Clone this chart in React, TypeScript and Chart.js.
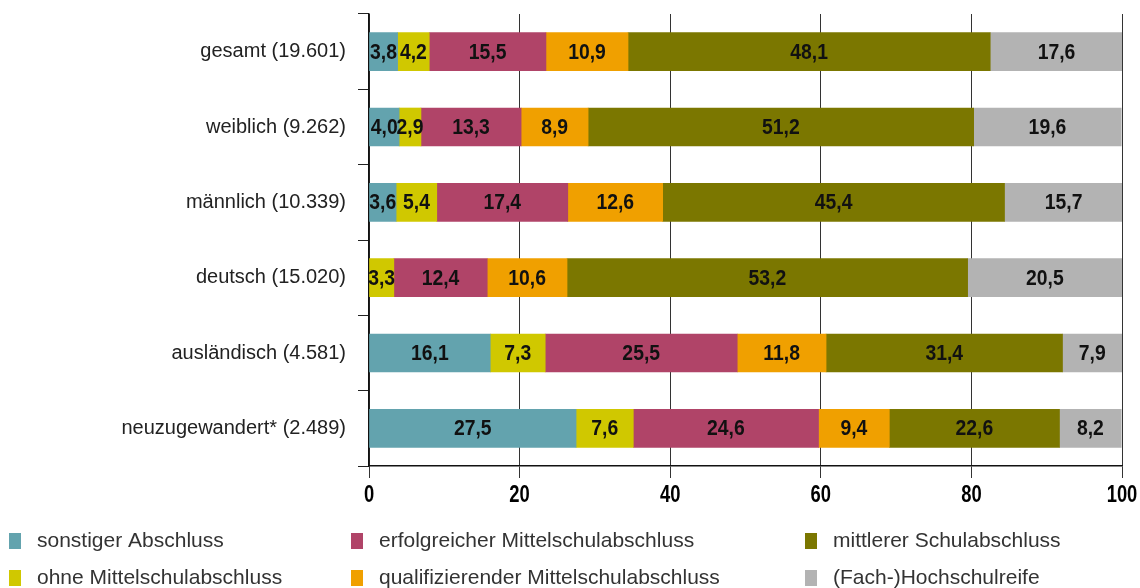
import React, { useEffect, useRef } from "react";
import { Chart, registerables } from "chart.js";

Chart.register(...registerables);

const categories = [
  "gesamt (19.601)",
  "weiblich (9.262)",
  "männlich (10.339)",
  "deutsch (15.020)",
  "ausländisch (4.581)",
  "neuzugewandert* (2.489)",
];

const sonstiger = [3.8, 4.0, 3.6, null, 16.1, 27.5];
const ohneMittel = [4.2, 2.9, 5.4, 3.3, 7.3, 7.6];
const erfolgreicher = [15.5, 13.3, 17.4, 12.4, 25.5, 24.6];
const qualifizierender = [10.9, 8.9, 12.6, 10.6, 11.8, 9.4];
const mittlerer = [48.1, 51.2, 45.4, 53.2, 31.4, 22.6];
const hochschulreife = [17.6, 19.6, 15.7, 20.5, 7.9, 8.2];

const xTicks = [0, 20, 40, 60, 80, 100];

const seriesNames = [
  "sonstiger Abschluss",
  "ohne Mittelschulabschluss",
  "erfolgreicher Mittelschulabschluss",
  "qualifizierender Mittelschulabschluss",
  "mittlerer Schulabschluss",
  "(Fach-)Hochschulreife",
];
const seriesColors = ["#63a3ae", "#d0c800", "#b04468", "#f0a000", "#7b7700", "#b3b3b3"];
const seriesData = [sonstiger, ohneMittel, erfolgreicher, qualifizierender, mittlerer, hochschulreife];

const BOLD_FONT = "'Liberation Sans', Arial, sans-serif";
const REG_FONT = "'Liberation Sans', Arial, sans-serif";

function drawCondensed(ctx: any, text: string, x: number, y: number, sx: number) {
  ctx.save();
  ctx.translate(x, y);
  ctx.scale(sx, 1);
  ctx.fillText(text, 0, 0);
  ctx.restore();
}

const valueLabelPlugin = {
  id: "valueLabels",
  afterDatasetsDraw(chart: any) {
    const ctx = chart.ctx;
    ctx.save();
    ctx.font = `bold 22px ${BOLD_FONT}`;
    ctx.fillStyle = "#111";
    ctx.textAlign = "center";
    ctx.textBaseline = "middle";
    chart.data.datasets.forEach((ds: any, di: number) => {
      const meta = chart.getDatasetMeta(di);
      meta.data.forEach((el: any, i: number) => {
        const v = ds.data[i];
        if (v === null || v === undefined || v === 0) return;
        const p = el.getCenterPoint();
        drawCondensed(ctx, v.toFixed(1).replace(".", ","), p.x, p.y + 1, 0.88);
      });
    });
    // x-axis tick labels
    const xs = chart.scales.x;
    ctx.font = `bold 23px ${BOLD_FONT}`;
    ctx.fillStyle = "#000";
    ctx.textBaseline = "middle";
    xTicks.forEach((v) => {
      const px = xs.getPixelForValue(v);
      drawCondensed(ctx, String(v), px, xs.top + 30, 0.8);
    });
    ctx.restore();
  },
};

const legendPlugin = {
  id: "customLegend",
  afterDraw(chart: any) {
    const ctx = chart.ctx;
    ctx.save();
    const cols = [9, 351, 805];
    const rows = [541, 578];
    ctx.font = `21px ${REG_FONT}`;
    ctx.textBaseline = "middle";
    ctx.textAlign = "left";
    seriesNames.forEach((name, i) => {
      const col = Math.floor(i / 2);
      const row = i % 2;
      const x = cols[col];
      const y = rows[row];
      ctx.fillStyle = seriesColors[i];
      ctx.fillRect(x, y - 8, 12, 16);
      ctx.fillStyle = "#333";
      ctx.fillText(name, x + 28, y);
    });
    ctx.restore();
  },
};

export default function App() {
  const ref = useRef<HTMLCanvasElement | null>(null);
  useEffect(() => {
    if (!ref.current) return;
    const chart = new Chart(ref.current, {
      type: "bar",
      data: {
        labels: categories,
        datasets: seriesData.map((d, i) => ({
          label: seriesNames[i],
          data: d,
          backgroundColor: seriesColors[i],
          borderWidth: 0,
          barThickness: 38,
        })),
      },
      options: {
        indexAxis: "y",
        responsive: false,
        animation: false,
        layout: { padding: { top: 14, right: 18, bottom: 82, left: 0 } },
        plugins: {
          legend: { display: false },
          tooltip: { enabled: false },
        },
        scales: {
          x: {
            stacked: true,
            min: 0,
            max: 100,
            afterBuildTicks: (scale: any) => {
              scale.ticks = xTicks.map((v) => ({ value: v }));
            },
            afterFit: (scale: any) => {
              scale.height = 40;
              scale.paddingLeft = 0;
              scale.paddingRight = 0;
            },
            grid: {
              color: "#333",
              lineWidth: 1,
              tickLength: 12,
              drawTicks: true,
            },
            border: { display: true, color: "#111", width: 1.5 },
            ticks: { display: false },
          },
          y: {
            stacked: true,
            afterFit: (scale: any) => {
              scale.width = 369;
              scale.paddingTop = 0;
              scale.paddingBottom = 0;
            },
            grid: {
              offset: true,
              drawOnChartArea: false,
              tickLength: 11,
              color: "#222",
              lineWidth: 1,
            },
            border: { display: true, color: "#111", width: 1.5 },
            ticks: {
              padding: 12,
              color: "#222",
              font: { family: REG_FONT, size: 20 },
            },
          },
        },
      },
      plugins: [valueLabelPlugin, legendPlugin],
    } as any);
    return () => chart.destroy();
  }, []);
  return (
    <div style={{ position: "fixed", left: 0, top: 0, width: 1140, height: 588, background: "#fff" }}>
      <canvas ref={ref} width={1140} height={588} style={{ display: "block" }} />
    </div>
  );
}
